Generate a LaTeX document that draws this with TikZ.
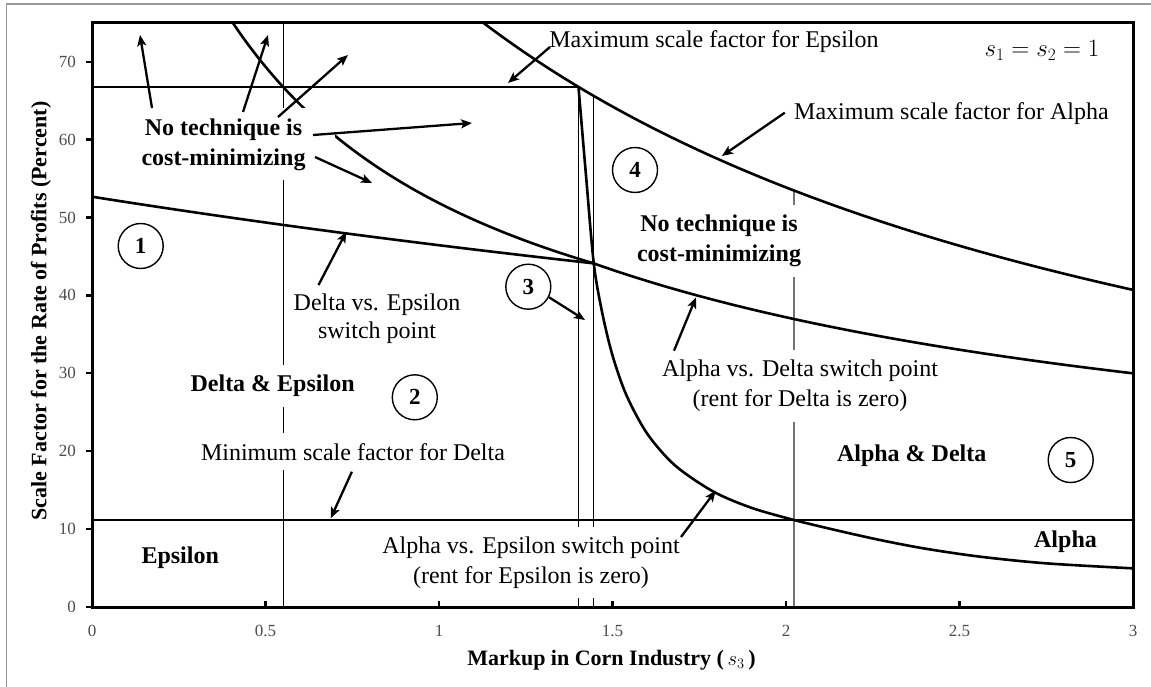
\documentclass[tikz,border=0pt]{standalone}
\usepackage{fontspec}
\setmainfont{Liberation Serif}
\usetikzlibrary{arrows.meta}
\begin{document}
\begin{tikzpicture}[x=1pt,y=-1pt,
  lbl/.style={font=\fontsize{24}{30}\selectfont, inner sep=0pt},
  blbl/.style={font=\fontsize{24}{30}\selectfont\bfseries, inner sep=0pt},
  box/.style={fill=white, inner xsep=8pt, inner ysep=10pt},
  curve/.style={line width=2.6pt, line join=round},
  thinline/.style={line width=1.2pt},
  arr/.style={line width=2.3pt, -{Stealth[length=11pt,width=9pt,inset=2.5pt]}},
  circ/.style={circle, draw, line width=1.4pt, minimum size=45pt, inner sep=0pt, font=\fontsize{23}{27}\selectfont\bfseries},
  ticklbl/.style={font=\fontsize{17}{20}\selectfont, text=black!70, inner sep=0pt},
  axtitle/.style={font=\fontsize{22}{26}\selectfont\bfseries, inner sep=0pt},
]
\useasboundingbox (0,0) rectangle (1151,687);
\fill[white] (0,0) rectangle (1151,687);
\draw[black!40, line width=1.2pt] (6.5,687) -- (6.5,4) -- (1151,4);

% plot region: lines that are hidden by the text boxes
\begin{scope}[shift={(92,607)}, x=347pt, y=7.79pt]
  \draw[thinline] (0.551,0) -- (0.551,75);
  \draw[thinline] (1.402,0) -- (1.402,66.75);
  \draw[thinline] (1.446,0) -- (1.446,65.6);
  \draw[thinline, black!55] (2.023,0) -- (2.023,53.46);
  \draw[curve, domain=0.406:1.446, samples=80] plot (\x,{46.56/(\x+0.43)+19.29});
\end{scope}

% text boxes that interrupt lines
\node[blbl, box, align=center, inner xsep=30pt] (noL) at (223.5,144.4) {No technique is\\cost-minimizing};
\node[blbl, box, align=center, inner xsep=5pt] (noR) at (719,241.1) {No technique is\\cost-minimizing};
\node[blbl, box, anchor=base] (de) at (272.6,391.7) {Delta \& Epsilon};
\node[lbl, box, anchor=base] (mind) at (353,460) {Minimum scale factor for Delta};
\node[lbl, box, align=center] (ave) at (531,562.4) {Alpha vs. Epsilon switch point\\(rent for Epsilon is zero)};
\node[lbl, box, align=center, inner xsep=5pt] (avd) at (800,386.1) {Alpha vs. Delta switch point\\(rent for Delta is zero)};

% remaining curves
\begin{scope}[shift={(92,607)}, x=347pt, y=7.79pt]
  \draw[curve] (0,66.75) -- (1.402,66.75);
  \draw[curve] (0,11.17) -- (3,11.17);
  \draw[curve, domain=1.128:3, samples=80] plot (\x,{166.7/(\x+1.095)});
  \draw[curve, domain=0:1.446, samples=60] plot (\x,{392.7/(\x+7.456)});
  \draw[curve, domain=1.446:3, samples=80] plot (\x,{70.6/(\x+0.672)+10.77});
  \draw[curve] plot[smooth, tension=0.5] coordinates {(1.402,66.75) (1.424,55.2) (1.446,44.11) (1.47,37.84) (1.50,32.29) (1.54,27.2) (1.60,22.25) (1.68,18.18) (1.79,14.83) (1.90,12.74) (2.023,11.17) (2.15,9.8) (2.271,8.6) (2.4,7.5) (2.559,6.46) (2.751,5.6) (3.0,4.96)};
\end{scope}

% other labels
\node[lbl, align=center, font=\fontsize{24}{28.3}\selectfont] (dve) at (377,318.5) {Delta vs. Epsilon\\switch point};
\node[lbl, anchor=base] (maxe) at (714,47.5) {Maximum scale factor for Epsilon};
\node[lbl, anchor=base] (maxa) at (951.5,119.5) {Maximum scale factor for Alpha};
\node[lbl, anchor=base, font=\fontsize{25}{30}\selectfont] (sval) at (1042,57) {$s_1 = s_2 = 1$};
\node[blbl, anchor=base] (eps) at (180.2,563) {Epsilon};
\node[blbl, anchor=base] (ad) at (911.7,461.7) {Alpha \& Delta};
\node[blbl, anchor=base] (alp) at (1065.5,547) {Alpha};

% circled numbers
\node[circ] (c1) at (140.7,246) {1};
\node[circ] (c2) at (414.8,397.3) {2};
\node[circ] (c3) at (528.3,286.7) {3};
\node[circ] (c4) at (635,170) {4};
\node[circ] (c5) at (1070.7,460) {5};

% arrow end points
\coordinate (t1) at (152,108);   \coordinate (h1) at (140,35);
\coordinate (t2) at (243,112);   \coordinate (h2) at (268,35);
\coordinate (t3) at (278,117);   \coordinate (h3) at (348,55);
\coordinate (t4) at (313,135);   \coordinate (h4) at (472,123);
\coordinate (t5) at (315,157);   \coordinate (h5) at (372,183);
\coordinate (te) at (550,47);    \coordinate (he) at (508,83);
\coordinate (ta) at (784.8,112.7); \coordinate (ha) at (721.9,156);
\coordinate (tdv) at (318.5,285); \coordinate (hdv) at (346.3,231.7);
\coordinate (h3c) at (585,320);
\coordinate (tmd) at (351.9,471.7); \coordinate (hmd) at (330.7,518.3);
\coordinate (tad) at (674,350.7); \coordinate (had) at (696,297.3);
\coordinate (tae) at (681,537); \coordinate (hae) at (715.7,490.7);

\draw[arr] (t1) -- (h1);
\draw[arr] (t2) -- (h2);
\draw[arr] (t3) -- (h3);
\draw[arr] (t4) -- (h4);
\draw[arr] (t5) -- (h5);
\draw[arr] (te) -- (he);
\draw[arr] (ta) -- (ha);
\draw[arr] (tdv) -- (hdv);
\draw[arr] (c3.-27) -- (h3c);
\draw[arr] (tmd) -- (hmd);
\draw[arr] (tad) -- (had);
\draw[arr] (tae) -- (hae);

% axes, ticks and labels
\draw[line width=3pt] (92,22.75) rectangle (1133,607);
\foreach \v [count=\i] in {0,10,...,70} {
  \draw[line width=2.2pt] (86,{607-7.79*\v}) -- (92,{607-7.79*\v});
  \node[ticklbl, anchor=east] (yl\i) at (76,{607-7.79*\v}) {\v};
}
\foreach \v/\t [count=\i] in {0.5/0.5,1/1,1.5/1.5,2/2,2.5/2.5} {
  \draw[line width=2.2pt] ({92+347*\v},607) -- ({92+347*\v},601);
}
\foreach \v/\t [count=\i] in {0/0,0.5/0.5,1/1,1.5/1.5,2/2,2.5/2.5,3/3} {
  \node[ticklbl, anchor=north] (xl\i) at ({92+347*\v},625) {\t};
}
\node[axtitle, anchor=base] (xtitle) at (611.5,665) {Markup in Corn Industry (\,$s_3$\,)};
\node[axtitle, rotate=90] (ytitle) at (41,311) {Scale Factor for the Rate of Profits (Percent)};
\end{tikzpicture}
\end{document}
